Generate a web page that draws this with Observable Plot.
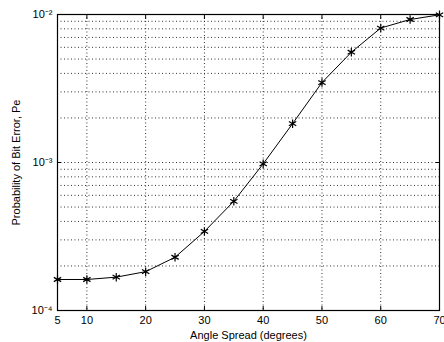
<!DOCTYPE html>
<html>
<head>
<meta charset="utf-8">
<script src="https://cdn.jsdelivr.net/npm/d3@7"></script>
<script src="https://cdn.jsdelivr.net/npm/@observablehq/plot@0.6"></script>
<style>
  html, body { margin: 0; padding: 0; background: #fff; }
  svg { display: block; }
</style>
</head>
<body>
<div id="chart"></div>
<script>
const angles = [5, 10, 15, 20, 25, 30, 35, 40, 45, 50, 55, 60, 65, 70];
const pe = [1.62e-4, 1.62e-4, 1.68e-4, 1.83e-4, 2.29e-4, 3.42e-4, 5.47e-4, 9.8e-4, 1.83e-3, 3.47e-3, 5.56e-3, 8.1e-3, 9.25e-3, 9.95e-3];
const xTicks = [5, 10, 20, 30, 40, 50, 60, 70];
const xGrid = [10, 20, 30, 40, 50, 60];
const yTicks = [1e-4, 1e-3, 1e-2];
const yTickLabels = ["10⁻⁴", "10⁻³", "10⁻²"];
const yGrid = [2e-4,3e-4,4e-4,5e-4,6e-4,7e-4,8e-4,9e-4,1e-3,2e-3,3e-3,4e-3,5e-3,6e-3,7e-3,8e-3,9e-3];

const data = angles.map((a, i) => ({angle: a, pe: pe[i]}));

const chart = Plot.plot({
  width: 444,
  height: 342,
  marginLeft: 57,
  marginRight: 5,
  marginTop: 14,
  marginBottom: 32,
  style: {fontFamily: "'Liberation Sans', Arial, sans-serif", fontSize: "10px", color: "#000", background: "#fff"},
  x: {domain: [5, 70]},
  y: {type: "log", domain: [1e-4, 1e-2]},
  marks: [
    Plot.ruleX(xGrid, {stroke: "#000", strokeOpacity: 0.8, strokeDasharray: "1,2.5", strokeWidth: 1}),
    Plot.ruleY(yGrid, {stroke: "#000", strokeOpacity: 0.8, strokeDasharray: "1,2.5", strokeWidth: 1}),
    Plot.axisX({anchor: "bottom", ticks: xTicks, tickSize: 0, tickPadding: 6, fontSize: 11, label: "Angle Spread (degrees)", labelAnchor: "center", labelArrow: "none", labelOffset: 28}),
    Plot.axisX({anchor: "bottom", ticks: xTicks, tickSize: 4, dy: -4, tickFormat: () => "", label: null}),
    Plot.axisX({anchor: "top", ticks: xTicks, tickSize: 4, dy: 4, tickFormat: () => "", label: null}),
    Plot.axisY({anchor: "left", ticks: yTicks, tickSize: 0, tickPadding: 5, fontSize: 11, tickFormat: (d) => yTickLabels[yTicks.indexOf(d)] ?? "", label: "Probability of Bit Error, Pe", labelAnchor: "center", labelArrow: "none", labelOffset: 45}),
    Plot.axisY({anchor: "left", ticks: yTicks, tickSize: 4, dx: 4, tickFormat: () => "", label: null}),
    Plot.axisY({anchor: "right", ticks: yTicks, tickSize: 4, dx: -4, tickFormat: () => "", label: null}),
    Plot.frame({stroke: "#000", strokeWidth: 1.2}),
    Plot.line(data, {x: "angle", y: "pe", stroke: "#000", strokeWidth: 1}),
    Plot.dot(data, {x: "angle", y: "pe", symbol: "asterisk", r: 4, stroke: "#000", strokeWidth: 1.2})
  ]
});
document.getElementById("chart").appendChild(chart);
</script>
</body>
</html>
